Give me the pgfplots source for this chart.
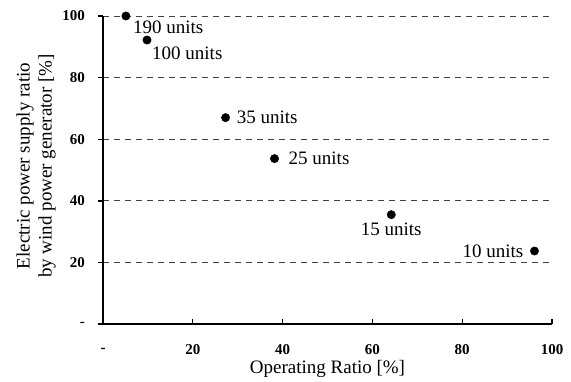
\documentclass[border=0pt]{standalone}
\usepackage{fontspec}
\setmainfont{Liberation Serif}
\usepackage{pgfplots}
\pgfplotsset{compat=1.18}
\begin{document}
\begin{tikzpicture}
\begin{axis}[
  at={(0,0)}, anchor=south west,
  scale only axis, width=449pt, height=308pt,
  xmin=0, xmax=100, ymin=0, ymax=100,
  axis x line=bottom, axis y line=left,
  axis line style={-, line width=1.4pt, black},
  xtick={0,20,40,60,80,100},
  ytick={0,20,40,60,80,100},
  xticklabels={-,20,40,60,80,100},
  yticklabels={-,20,40,60,80,100},
  xtick align=inside, ytick align=outside,
  major tick length=5pt,
  tick style={line width=1.4pt, black},
  /pgf/number format/assume math mode=true,
  ticklabel style={font=\fontsize{15}{17}\selectfont\bfseries, inner sep=0pt},
  xticklabel style={anchor=center, yshift=-26pt},
  yticklabel style={anchor=east, xshift=-13pt},
  ymajorgrids,
  major grid style={black!75, line width=0.8pt, dash pattern=on 6pt off 5pt},
  xlabel={Operating Ratio [\%]},
  ylabel={Electric power supply ratio\\by wind power generator [\%]},
  label style={font=\fontsize{19}{22}\selectfont},
  xlabel style={at={(axis description cs:0.5,-0.146)}, anchor=center},
  ylabel style={at={(axis description cs:-0.149,0.513)}, anchor=center, align=center},
  clip=false,
]
\addplot[only marks, mark=*, mark size=4.2pt, black] coordinates {
  (5.1,100) (9.8,92.2) (27.3,67.0) (38.2,53.7) (64.2,35.5) (96.1,23.7)
};
\begin{scope}[every node/.style={font=\fontsize{19}{22}\selectfont, inner sep=0pt}]
\node[anchor=west] at (axis cs:5.1,100) [xshift=7pt, yshift=-11pt] {190 units};
\node[anchor=west] at (axis cs:9.8,92.2) [xshift=5pt, yshift=-13pt] {100 units};
\node[anchor=west] at (axis cs:27.3,67.0) [xshift=11pt] {35 units};
\node[anchor=west] at (axis cs:38.2,53.7) [xshift=14pt] {25 units};
\node[anchor=center] at (axis cs:64.2,35.5) [yshift=-15pt] {15 units};
\node[anchor=east] at (axis cs:96.1,23.7) [xshift=-11pt] {10 units};
\end{scope}
\end{axis}
\pgfresetboundingbox
\useasboundingbox (-103pt,-57pt) rectangle (468pt,324pt);
\end{tikzpicture}
\end{document}
